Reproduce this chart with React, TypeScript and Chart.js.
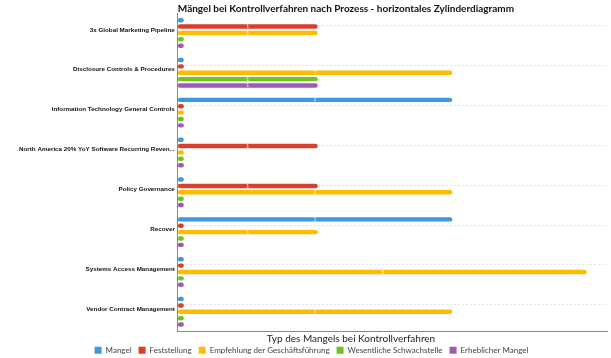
import React, { useEffect, useRef } from "react";
import { Chart, registerables } from "chart.js";

Chart.register(...registerables);

const categories = [
  "3x Global Marketing Pipeline",
  "Disclosure Controls & Procedures",
  "Information Technology General Controls",
  "North America 20% YoY Software Recurring Reven...",
  "Policy Governance",
  "Recover",
  "Systems Access Management",
  "Vendor Contract Management",
];

const seriesNames = [
  "Mangel",
  "Feststellung",
  "Empfehlung der Geschäftsführung",
  "Wesentliche Schwachstelle",
  "Erheblicher Mangel",
];

const mangel = [0, 0, 2, 0, 0, 2, 0, 0];
const feststellung = [1, 0, 0, 1, 1, 0, 0, 0];
const empfehlung = [1, 2, 0, 0, 2, 1, 3, 2];
const wesentlich = [0, 1, 0, 0, 0, 0, 0, 0];
const erheblich = [0, 1, 0, 0, 0, 0, 0, 0];

const colors = ["#3d98dd", "#d8402d", "#fcbd00", "#6fc41e", "#a259b6"];

const titleText = "Mängel bei Kontrollverfahren nach Prozess - horizontales Zylinderdiagramm";
const xTitle = "Typ des Mangels bei Kontrollverfahren";

const titlePlugin = {
  id: "texts",
  afterDraw(chart: any) {
    const { ctx, chartArea } = chart;
    ctx.save();
    ctx.font = "bold 10px Lato";
    ctx.fillStyle = "#111";
    ctx.textBaseline = "middle";
    ctx.textAlign = "left";
    ctx.fillText(titleText, chartArea.left, 9);
    ctx.font = "10px Lato";
    ctx.fillStyle = "#222";
    ctx.textAlign = "center";
    ctx.fillText(xTitle, 351, 339);
    ctx.restore();
  },
};

const gridPlugin = {
  id: "offsetGrid",
  beforeDatasetsDraw(chart: any) {
    const { ctx, chartArea, scales } = chart;
    ctx.save();
    ctx.strokeStyle = "#e3e3e3";
    ctx.lineWidth = 1;
    ctx.setLineDash([2, 2]);
    categories.forEach((_, i) => {
      const y = Math.round(scales.y.getPixelForValue(i) - 7.5) + 0.5;
      ctx.beginPath();
      ctx.moveTo(chartArea.left, y);
      ctx.lineTo(chartArea.right, y);
      ctx.stroke();
    });
    ctx.restore();
  },
};

const valueLabelPlugin = {
  id: "valueLabels",
  afterDatasetsDraw(chart: any) {
    const { ctx } = chart;
    ctx.save();
    ctx.font = "5px Lato";
    ctx.fillStyle = "rgba(255,255,255,0.85)";
    ctx.textAlign = "center";
    ctx.textBaseline = "middle";
    chart.data.datasets.forEach((ds: any, i: number) => {
      const meta = chart.getDatasetMeta(i);
      meta.data.forEach((el: any, j: number) => {
        const v = ds.data[j];
        if (v > 0) {
          ctx.fillText(String(v), (el.x + el.base) / 2, el.y);
        }
      });
    });
    ctx.restore();
  },
};

export default function App() {
  const ref = useRef<HTMLCanvasElement | null>(null);
  useEffect(() => {
    if (!ref.current) return;
    const values = [mangel, feststellung, empfehlung, wesentlich, erheblich];
    const chart = new Chart(ref.current, {
      type: "bar",
      data: {
        labels: categories,
        datasets: values.map((d, i) => ({
          label: seriesNames[i],
          data: d,
          backgroundColor: colors[i],
          borderColor: colors[i],
          borderWidth: 0,
          borderRadius: 3,
          borderSkipped: false,
          minBarLength: 6,
          base: -0.04,
          categoryPercentage: 0.8,
          barPercentage: 0.7,
        })),
      },
      options: {
        indexAxis: "y",
        animation: false,
        responsive: true,
        maintainAspectRatio: false,
        layout: { padding: { top: 13, right: 4, left: 16, bottom: -6.25 } },
        plugins: {
          title: { display: false },
          tooltip: { enabled: false },
          legend: {
            position: "bottom",
            labels: {
              boxWidth: 7,
              boxHeight: 7,
              padding: 7,
              color: "#444",
              font: { family: "Lato", size: 8 },
            },
          },
        },
        scales: {
          x: {
            min: -0.04,
            max: 3.15,
            ticks: { display: false },
            grid: { display: false, drawTicks: false },
            border: { display: true, color: "#888", width: 1 },
            title: { display: false },
            afterFit: (s: any) => {
              s.height = 7.5;
            },
          },
          y: {
            ticks: {
              color: "#111",
              font: { family: "Liberation Sans", size: 6.25, weight: "bold" },
              labelOffset: -3,
              padding: 3,
            },
            grid: { display: false, drawTicks: false },
            border: { display: true, color: "#888", width: 1 },
          },
        },
      },
      plugins: [gridPlugin, titlePlugin, valueLabelPlugin],
    } as any);
    return () => chart.destroy();
  }, []);
  return (
    <div style={{ position: "absolute", left: 0, top: 0, width: 611, height: 358 }}>
      <canvas ref={ref} />
    </div>
  );
}
